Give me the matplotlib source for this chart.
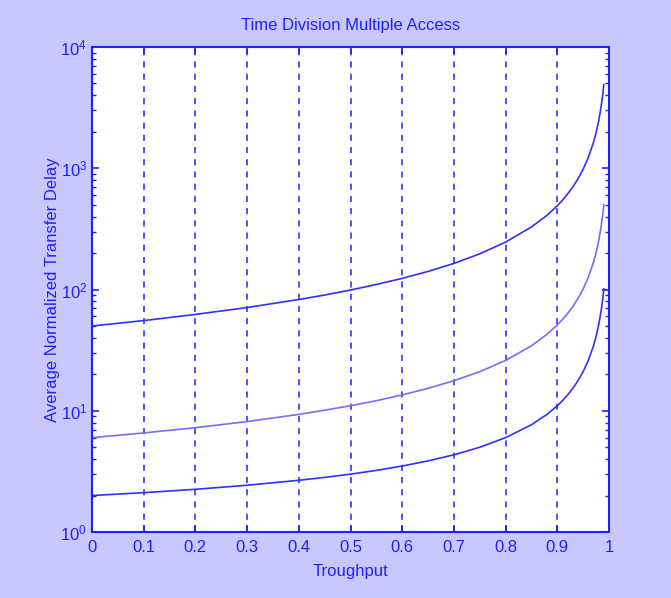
import matplotlib.pyplot as plt

# Throughput values (x) and delay readings for each curve
throughput = [0, 0.1, 0.2, 0.3, 0.4, 0.45, 0.5, 0.55, 0.6, 0.65, 0.7, 0.75,
              0.8, 0.85, 0.88, 0.9, 0.91, 0.92, 0.93, 0.94, 0.95, 0.96,
              0.97, 0.975, 0.98, 0.985, 0.988, 0.99]
delay_top = [50, 55.4, 62.3, 71, 82.7, 90, 99, 110, 123.5, 141, 164, 197,
             246, 328, 409, 491, 545, 614, 701, 818, 981, 1226,
             1634, 1961, 2451, 3268, 4084, 4901]
delay_mid = [6, 6.56, 7.25, 8.14, 9.33, 10.1, 11, 12.1, 13.5, 15.3, 17.7, 21,
             26, 34.3, 42.7, 51, 56.6, 63.5, 72.4, 84.3, 101, 126,
             168, 201, 251, 334, 418, 501]
delay_low = [2, 2.11, 2.25, 2.43, 2.67, 2.82, 3, 3.22, 3.5, 3.86, 4.33, 5,
             6, 7.67, 9.33, 11, 12.1, 13.5, 15.3, 17.7, 21, 26,
             34.3, 41, 51, 67.7, 84.3, 101]
xticks = [0, 0.1, 0.2, 0.3, 0.4, 0.5, 0.6, 0.7, 0.8, 0.9, 1]
xticklabels = ['0', '0.1', '0.2', '0.3', '0.4', '0.5', '0.6', '0.7', '0.8', '0.9', '1']

blue = '#2020ff'
plt.rcParams['font.family'] = ['Liberation Sans Narrow', 'Liberation Sans', 'DejaVu Sans']

fig = plt.figure(figsize=(6.71, 5.98), dpi=100, facecolor='#c8c8ff')
ax = fig.add_axes([92 / 671, 1 - 532 / 598, (609 - 92) / 671, (532 - 47) / 598])
ax.set_facecolor('white')

ax.plot(throughput, delay_top, color='#3030ff', lw=1.2)
ax.plot(throughput, delay_mid, color='#7070ff', lw=1.2)
ax.plot(throughput, delay_low, color='#3030ff', lw=1.2)

ax.set_yscale('log')
ax.set_xlim(0, 1)
ax.set_ylim(1, 1e4)
ax.set_xticks(xticks)
ax.set_xticklabels(xticklabels)

# vertical dashed grid only
ax.xaxis.grid(True, linestyle=(0, (4, 4)), color=blue, lw=1.1)
ax.yaxis.grid(False)

for s in ax.spines.values():
    s.set_color(blue)
    s.set_linewidth(1.5)
ax.tick_params(which='both', direction='in', top=True, right=True,
               colors=blue, labelsize=12)
ax.tick_params(which='major', length=5, width=1.2)
ax.tick_params(which='minor', length=3, width=1)
ax.tick_params(axis='x', pad=6)

ax.set_title('Time Division Multiple Access', color=blue, fontsize=12, pad=12)
ax.set_xlabel('Troughput', color=blue, fontsize=12, labelpad=6)
ax.set_ylabel('Average Normalized Transfer Delay', color=blue, fontsize=12, labelpad=0)

fig.savefig('out.png', dpi=100, facecolor=fig.get_facecolor())
